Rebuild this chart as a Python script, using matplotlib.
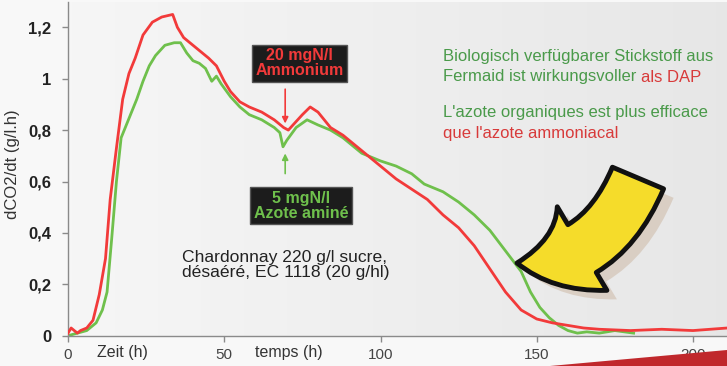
import matplotlib
matplotlib.use("Agg")
import matplotlib.pyplot as plt
import numpy as np
from matplotlib.patches import FancyArrowPatch, Polygon
from matplotlib.path import Path

plt.rcParams['font.family'] = ['Liberation Sans', 'DejaVu Sans']

# ---- data ----
t_red = [0, 1, 2, 3, 4, 6, 8, 10, 12, 13.5, 15.5, 17.5, 19.5, 21.5, 24, 27, 30, 33.5, 35, 37,
         40, 42, 45, 47.5, 50, 52, 55, 58, 62, 66, 69, 70.5, 72, 75, 77.5, 80, 84, 88, 94, 100,
         105, 110, 115, 120, 125, 130, 135, 140, 145, 150, 155, 160, 165, 170, 180, 190, 200, 211]
v_red = [0.01, 0.03, 0.02, 0.01, 0.02, 0.03, 0.06, 0.16, 0.30, 0.53, 0.73, 0.92, 1.02, 1.08, 1.17,
         1.22, 1.24, 1.25, 1.20, 1.16, 1.13, 1.11, 1.08, 1.05, 0.99, 0.95, 0.91, 0.89, 0.87, 0.84,
         0.81, 0.80, 0.82, 0.86, 0.89, 0.87, 0.81, 0.78, 0.72, 0.66, 0.61, 0.57, 0.53, 0.47, 0.42,
         0.35, 0.26, 0.17, 0.10, 0.065, 0.05, 0.04, 0.03, 0.025, 0.02, 0.025, 0.02, 0.03]

t_green = [0, 3, 6, 9, 11, 12.5, 14, 15.5, 17, 18, 20, 22, 24, 26, 28, 31, 34, 36, 38, 40, 42, 44,
           46, 47.5, 49, 52, 55, 58, 62, 66, 67.8, 68.8, 70, 73, 76.5, 80, 84, 88, 94, 100, 105,
           110, 114, 120, 125, 130, 135, 140, 145, 148, 151, 154, 157, 160, 163, 166, 170, 175, 181]
v_green = [0.0, 0.01, 0.02, 0.05, 0.10, 0.17, 0.38, 0.60, 0.77, 0.80, 0.86, 0.92, 0.99, 1.05, 1.09,
           1.13, 1.14, 1.14, 1.10, 1.07, 1.06, 1.04, 0.99, 1.01, 0.98, 0.93, 0.89, 0.86, 0.84, 0.81,
           0.79, 0.735, 0.76, 0.81, 0.84, 0.82, 0.80, 0.77, 0.71, 0.68, 0.66, 0.63, 0.59, 0.56, 0.52,
           0.47, 0.41, 0.33, 0.25, 0.17, 0.11, 0.07, 0.04, 0.02, 0.01, 0.015, 0.01, 0.02, 0.01]

x_ticks = [0, 50, 100, 150, 200]
x_tick_labels = ["0", "50", "100", "150", "200"]
y_ticks = [0, 0.2, 0.4, 0.6, 0.8, 1.0, 1.2]
y_tick_labels = ["0", "0,2", "0,4", "0,6", "0,8", "1", "1,2"]

RED = "#f23a3a"
GREEN = "#6fc04c"

W, H = 727, 366
fig = plt.figure(figsize=(W / 100, H / 100), dpi=100, facecolor="#f8f8f8")
ax = fig.add_axes([68 / W, (H - 335.7) / H, 1 - 68 / W, (335.7 - 2) / H])
ax.set_facecolor("#eeeeee")

# soft background gradient (light at left, slightly darker at right)
grad = np.linspace(0.965, 0.905, 256).reshape(1, -1)
ax.imshow(np.dstack([grad, grad, grad]), extent=[0, 1, 0, 1], transform=ax.transAxes,
          aspect="auto", zorder=0, interpolation="bicubic")

ax.plot(t_red, v_red, color=RED, lw=2, zorder=3)
ax.plot(t_green, v_green, color=GREEN, lw=2, zorder=2)

for s in ["top", "right"]:
    ax.spines[s].set_visible(False)
for s in ["left", "bottom"]:
    ax.spines[s].set_color("#8a8a8a")
    ax.spines[s].set_linewidth(1)
ax.set_xticks(x_ticks)
ax.set_xticklabels(x_tick_labels, fontsize=11, color="#444444")
ax.set_yticks(y_ticks)
ax.set_yticklabels(y_tick_labels, fontsize=12, color="#222222", fontweight="bold")
ax.tick_params(axis="both", colors="#8a8a8a", length=4, width=1)
ax.tick_params(axis="x", labelcolor="#444444", pad=5)
ax.tick_params(axis="y", labelcolor="#222222", pad=8)
ax.set_xlim(0, (W - 68) / 3.125)
ax.set_ylim(0, (335.7 - 2) / 257)

fig.text(13 / W, 1 - 164 / H, "dCO2/dt (g/l.h)", rotation=90, fontsize=12,
         color="#333333", ha="center", va="center")
fig.text(97 / W, 1 - 353 / H, "Zeit (h)", fontsize=11.5, color="#333333", va="center")
fig.text(255 / W, 1 - 353 / H, "temps (h)", fontsize=11.5, color="#333333", va="center")

# annotation boxes
ax.annotate("", xy=(69.5, 0.815), xytext=(69.5, 0.97),
            arrowprops=dict(arrowstyle="-|>", color=RED, lw=1.2, mutation_scale=9))
ax.text(74, 1.06, "20 mgN/l\nAmmonium", color=RED, fontsize=11.5, fontweight="bold",
        ha="center", va="center", linespacing=1.0,
        bbox=dict(boxstyle="square,pad=0.22", fc="#1c1c1c", ec="#555555"))
ax.annotate("", xy=(69.5, 0.72), xytext=(69.5, 0.62),
            arrowprops=dict(arrowstyle="-|>", color=GREEN, lw=1.2, mutation_scale=9))
ax.text(74.5, 0.505, "5 mgN/l\nAzote aminé", color=GREEN, fontsize=11.5, fontweight="bold",
        ha="center", va="center", linespacing=1.0,
        bbox=dict(boxstyle="square,pad=0.22", fc="#1c1c1c", ec="#555555"))

ax.text(36.5, 0.275, "Chardonnay 220 g/l sucre,\ndésaéré, EC 1118 (20 g/hl)", fontsize=12.6,
        color="#222222", ha="left", va="center", linespacing=1.05)

# right-hand messages
GT = "#4a9a4a"
RT = "#d83a3a"
FS = 12
fig.text(443 / W, 1 - 56 / H, "Biologisch verfügbarer Stickstoff aus", fontsize=FS, color=GT, va="center")
t1 = fig.text(443 / W, 1 - 77 / H, "Fermaid ist wirkungsvoller ", fontsize=FS, color=GT, va="center")
fig.canvas.draw()
bb = t1.get_window_extent()
fig.text(bb.x1 / W, 1 - 77 / H, "als DAP", fontsize=FS, color=RT, va="center")
fig.text(443 / W, 1 - 113 / H, "L'azote organiques est plus efficace", fontsize=FS, color=GT, va="center")
fig.text(443 / W, 1 - 133 / H, "que l'azote ammoniacal", fontsize=FS, color=RT, va="center")


# yellow curved arrow (decoration), quadratic curve in figure pixels
def curved_path(p0, c, p1, dx=0, dy=0):
    pts = [((x + dx) / W, 1 - (y + dy) / H) for x, y in (p0, c, p1)]
    return Path(pts, [Path.MOVETO, Path.CURVE3, Path.CURVE3])


style = "simple,head_length=48,head_width=70,tail_width=40"
P0, C, P1 = (638, 178), (600, 268), (517, 263)
shadow = FancyArrowPatch(path=curved_path(P0, C, P1, 10, 9),
                         transform=fig.transFigure, arrowstyle=style,
                         fc="#cdb9a6", ec="none", alpha=0.55, zorder=5)
fig.patches.append(shadow)
arr = FancyArrowPatch(path=curved_path(P0, C, P1),
                      transform=fig.transFigure, arrowstyle=style,
                      fc="#f5dc2a", ec="#111111", lw=3.5, zorder=6)
fig.patches.append(arr)

# red band bottom right
band = Polygon([(550 / W, 0), (727 / W, 16 / H), (727 / W, 0)], closed=True,
               transform=fig.transFigure, fc="#c0282c", ec="none", zorder=7)
fig.patches.append(band)

fig.savefig("out.png", dpi=100, facecolor=fig.get_facecolor())
